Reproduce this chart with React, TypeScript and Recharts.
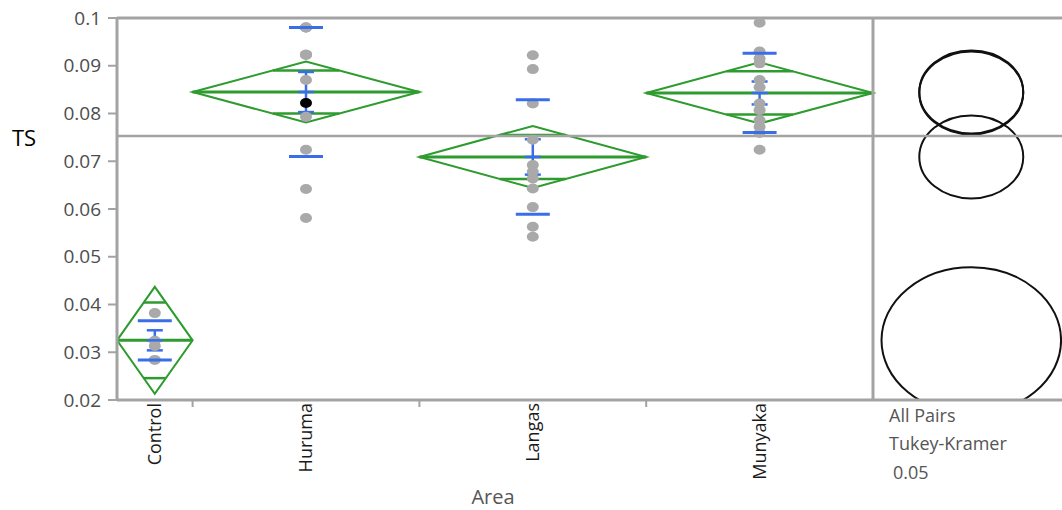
import { ComposedChart, XAxis, YAxis, Scatter, ErrorBar, ReferenceLine, ReferenceArea } from "recharts";

// groups (JMP oneway: widths proportional to n)
const areas = ["Control", "Huruma", "Langas", "Munyaka"];
const groupSizes = [4, 12, 12, 12];
const groupMeans = [0.0325, 0.0845, 0.0709, 0.0843];
const ciHalfWidths = [0.0112, 0.0064, 0.0065, 0.0064];
const stdDevs = [0.0041, 0.0135, 0.012, 0.0083];
const stdErrors = [0.0021, 0.0042, 0.0037, 0.0024];
const grandMean = 0.0753;

// raw TS values
const controlTS = [0.0382, 0.0324, 0.0313, 0.0284];
const hurumaTS = [0.098, 0.098, 0.098, 0.0923, 0.0923, 0.0923, 0.087, 0.0793, 0.0724, 0.0642, 0.0581];
const hurumaSelected = [0.0822];
const langasTS = [0.0922, 0.0893, 0.0821, 0.0745, 0.0692, 0.0678, 0.0664, 0.0643, 0.0604, 0.0563, 0.0542];
const munyakaTS = [0.099, 0.093, 0.0915, 0.0905, 0.087, 0.0855, 0.0821, 0.0807, 0.0786, 0.0772, 0.0759, 0.0724];

// Tukey-Kramer comparison circles
const circleCenterX = 45.2;
const circleRadii = [0.0153, 0.0087, 0.0087, 0.0087];
const circleXRadii = [4.75, 2.75, 2.75, 2.75];

const yTicks = [0.02, 0.03, 0.04, 0.05, 0.06, 0.07, 0.08, 0.09, 0.1];

const GRAY = "#a3a3a3";
const DOT = "#a9a9a9";
const GREEN = "#2e9b2e";
const BLUE = "#3a6ee8";

const groupStarts = groupSizes.map((_, i) => groupSizes.slice(0, i).reduce((a, b) => a + b, 0));
const groupEnds = groupStarts.map((s, i) => s + groupSizes[i]);
const groupCenters = groupStarts.map((s, i) => s + groupSizes[i] / 2);
const panelEdge = groupEnds[groupEnds.length - 1];

const tsByArea = [controlTS, hurumaTS, langasTS, munyakaTS];
const points = tsByArea.flatMap((vals, i) => vals.map((v) => ({ x: groupCenters[i], y: v })));
const selectedPoints = hurumaSelected.map((v) => ({ x: groupCenters[1], y: v }));
const sdPoints = groupMeans.flatMap((m, i) => [
  { x: groupCenters[i], y: m + stdDevs[i] },
  { x: groupCenters[i], y: m - stdDevs[i] },
]);
const meanPoints = groupMeans.map((m, i) => ({ x: groupCenters[i], y: m, se: stdErrors[i] }));

const Diamond = (props: any) => {
  const { x, y, width, height } = props;
  const midX = x + width / 2;
  const midY = y + height / 2;
  const off = height / 2 / Math.SQRT2;
  const half = (width / 2) * (1 - 1 / Math.SQRT2);
  return (
    <g fill="none" stroke={GREEN} strokeWidth={2} clipPath={props.clipPath}>
      <polygon points={`${x},${midY} ${midX},${y} ${x + width},${midY} ${midX},${y + height}`} />
      <line x1={x} x2={x + width} y1={midY} y2={midY} strokeWidth={3} />
      <line x1={midX - half} x2={midX + half} y1={midY - off} y2={midY - off} strokeWidth={2.5} />
      <line x1={midX - half} x2={midX + half} y1={midY + off} y2={midY + off} strokeWidth={2.5} />
    </g>
  );
};

const Circle = (props: any) => {
  const { x, y, width, height } = props;
  return (
    <ellipse
      cx={x + width / 2}
      cy={y + height / 2}
      rx={width / 2}
      ry={height / 2}
      fill="none"
      stroke="#111"
      strokeWidth={2}
      clipPath={props.clipPath}
    />
  );
};

const AreaTick = ({ x, y, payload }: any) => {
  const idx = groupCenters.indexOf(payload.value);
  if (idx < 0) {
    return <line x1={x} x2={x} y1={y} y2={y + 7} stroke={GRAY} strokeWidth={2} />;
  }
  return (
    <text
      x={x}
      y={y + 3}
      transform={`rotate(-90 ${x} ${y + 3})`}
      textAnchor="end"
      dy="0.35em"
      fontSize={18}
      fill="#1a1a1a"
    >
      {areas[idx]}
    </text>
  );
};

export default function App() {
  return (
    <div style={{ position: "absolute", left: 0, top: 0, width: 1062, height: 510, fontFamily: "'Open Sans', sans-serif", background: "#fff" }}>
      <svg width={0} height={0} style={{ position: "absolute" }}>
        <defs>
          <clipPath id="plotClip">
            <rect x={117} y={18} width={945} height={382} />
          </clipPath>
        </defs>
      </svg>
      <ComposedChart width={1062} height={510} margin={{ top: 18, right: 0, bottom: 0, left: 0 }}>
        <XAxis
          type="number"
          dataKey="x"
          domain={[0, 50]}
          allowDataOverflow
          ticks={[...groupCenters, ...groupEnds.slice(0, -1)].sort((a, b) => a - b)}
          interval={0}
          tickSize={0}
          tickMargin={0}
          tickLine={false}
          tick={(p: any) => <AreaTick {...p} />}
          axisLine={{ stroke: GRAY, strokeWidth: 3 }}
          height={110}
        />
        <YAxis
          type="number"
          dataKey="y"
          domain={[0.02, 0.1]}
          allowDataOverflow
          ticks={yTicks}
          interval={0}
          width={117}
          tickSize={9}
          tickMargin={7}
          tickLine={{ stroke: GRAY, strokeWidth: 2 }}
          axisLine={{ stroke: GRAY, strokeWidth: 3 }}
          tick={{ fill: "#4d4d4d", fontSize: 19 }}
          tickFormatter={(v: number) => String(Number(v.toFixed(2)))}
        />
        <ReferenceLine y={0.1} stroke={GRAY} strokeWidth={3} />
        <ReferenceLine y={grandMean} stroke={GRAY} strokeWidth={2.5} />
        <ReferenceLine x={panelEdge} stroke={GRAY} strokeWidth={3} />
        {groupMeans.map((m, i) => (
          <ReferenceArea
            key={`d-${areas[i]}`}
            x1={groupStarts[i]}
            x2={groupEnds[i]}
            y1={m - ciHalfWidths[i]}
            y2={m + ciHalfWidths[i]}
            ifOverflow="visible"
            shape={(p: any) => <Diamond {...p} />}
          />
        ))}
        {groupMeans.map((m, i) => (
          <ReferenceArea
            key={`c-${areas[i]}`}
            x1={circleCenterX - circleXRadii[i]}
            x2={circleCenterX + circleXRadii[i]}
            y1={m - circleRadii[i]}
            y2={m + circleRadii[i]}
            ifOverflow="visible"
            shape={(p: any) => <Circle {...p} clipPath="url(#plotClip)" />}
          />
        ))}
        <Scatter
          data={points}
          isAnimationActive={false}
          shape={(p: any) => <ellipse cx={p.cx} cy={p.cy} rx={6} ry={5} fill={DOT} />}
        />
        <Scatter
          data={selectedPoints}
          isAnimationActive={false}
          shape={(p: any) => <ellipse cx={p.cx} cy={p.cy} rx={6} ry={5} fill="#000" />}
        />
        <Scatter
          data={sdPoints}
          isAnimationActive={false}
          shape={(p: any) => <line x1={p.cx - 17} x2={p.cx + 17} y1={p.cy} y2={p.cy} stroke={BLUE} strokeWidth={3} />}
        />
        <Scatter
          data={meanPoints}
          isAnimationActive={false}
          shape={(p: any) => <line x1={p.cx - 8} x2={p.cx + 8} y1={p.cy} y2={p.cy} stroke={BLUE} strokeWidth={2.5} />}
        >
          <ErrorBar dataKey="se" direction="y" width={8} stroke={BLUE} strokeWidth={2.5} />
        </Scatter>
      </ComposedChart>
      <svg width={1062} height={510} style={{ position: "absolute", left: 0, top: 0, pointerEvents: "none" }}>
        <text x={12} y={146} fontSize={22} fill="#000">TS</text>
        <text x={493} y={504} fontSize={20} fill="#555" textAnchor="middle">Area</text>
        <text x={889} y={422} fontSize={18} fill="#555">All Pairs</text>
        <text x={889} y={450} fontSize={18} fill="#555">Tukey-Kramer</text>
        <text x={893} y={479} fontSize={18} fill="#555">0.05</text>
      </svg>
    </div>
  );
}
